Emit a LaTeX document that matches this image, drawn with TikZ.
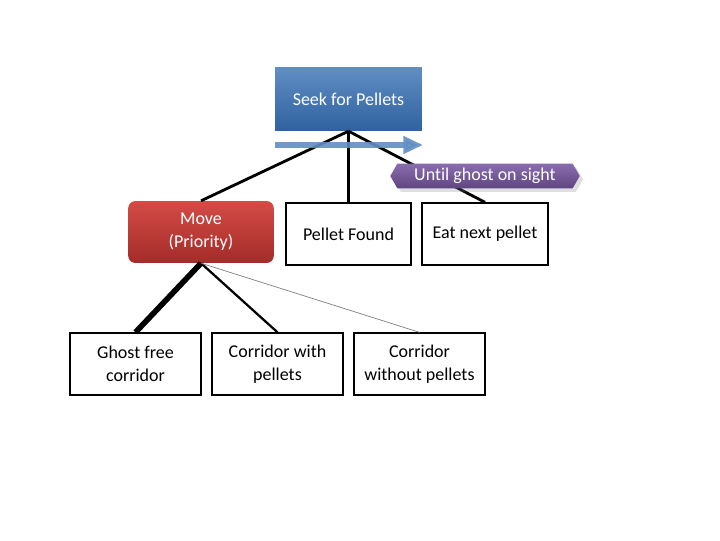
\documentclass[tikz,border=0pt]{standalone}
\usepackage{fontspec}
\setmainfont[Ligatures=NoCommon]{Carlito}
\usetikzlibrary{shapes.symbols,arrows.meta,shadows}
\definecolor{seekblue}{HTML}{4F81BD}
\definecolor{seekdark}{HTML}{2F629F}
\definecolor{movered}{HTML}{D54B46}
\definecolor{movedark}{HTML}{A32C29}
\definecolor{untilpurple}{HTML}{8B6DAE}
\definecolor{untildark}{HTML}{5E4580}
\tikzset{
 boxfont/.style={font=\fontsize{12.8}{16.5}\selectfont},
 leafbox/.style={draw,line width=1.1pt,minimum height=62*0.709pt,align=center,boxfont},
}
\begin{document}
\begin{tikzpicture}[x=0.025cm,y=-0.025cm]
 \useasboundingbox[fill=white](0,0) rectangle (720,540);
 % top task
 \node[top color=seekblue!90!white,bottom color=seekdark,minimum width=147*0.709pt,minimum height=64*0.709pt,text=white,boxfont](seek) at (348.5,99){Seek for Pellets};
 % children of seek
 \node[rounded corners=5pt,top color=movered,bottom color=movedark,minimum width=146*0.709pt,minimum height=62*0.709pt,text=white,align=center,boxfont](move) at (201,232){Move\\(Priority)};
 \node[leafbox,minimum width=125*0.709pt](found) at (348.5,234){Pellet Found};
 \node[leafbox,minimum width=126*0.709pt](eat) at (485,234){Eat next pellet};
 % children of move
 \node[leafbox,minimum width=131*0.709pt](ghost) at (135.5,364){Ghost free\\corridor};
 \node[leafbox,minimum width=131*0.709pt](withp) at (277.5,364){Corridor with\\pellets};
 \node[leafbox,minimum width=131*0.709pt](without) at (419.5,364){Corridor\\without pellets};
 % connectors
 \draw[line width=2pt](seek.south)--(move.north);
 \draw[line width=2pt](seek.south)--(found.north);
 \draw[line width=2pt](seek.south)--(eat.north);
 \draw[line width=4pt](move.south)--(ghost.north);
 \draw[line width=1.6pt](move.south)--(withp.north);
 \draw[gray,line width=0.5pt](move.south)--(without.north);
 % sequence arrow and decorator
 \coordinate(arrstart) at (275,145);
 \coordinate(arrend) at (423,145);
 \draw[seekblue!90!white,opacity=0.9,line width=4.2pt,-{Triangle[length=14pt,width=12pt]}](arrstart)--(arrend);
 \node[signal,signal to=east and west,signal pointer angle=120,top color=untilpurple,bottom color=untildark,drop shadow={opacity=0.25},text=white,minimum width=190*0.709pt,minimum height=25*0.709pt,inner ysep=1pt,boxfont](until) at (485,176){Until ghost on sight};
\end{tikzpicture}
\end{document}
